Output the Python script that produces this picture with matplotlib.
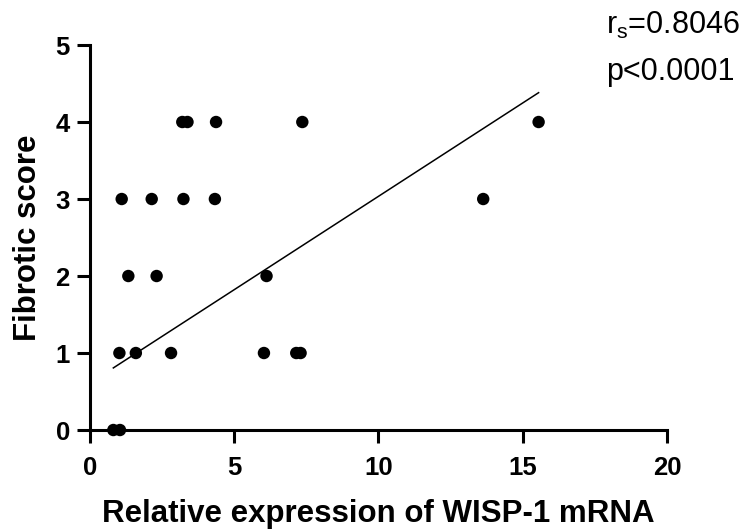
import numpy as np
import matplotlib
matplotlib.use('Agg')
import matplotlib.pyplot as plt

plt.rcParams['font.family'] = ['Liberation Sans', 'DejaVu Sans']
plt.rcParams['mathtext.fontset'] = 'custom'
plt.rcParams['mathtext.rm'] = 'Liberation Sans'

# values
wisp1 = np.array([0.81, 1.04,
                  1.02, 1.59, 2.81, 6.03, 7.15, 7.30,
                  1.33, 2.31, 6.12,
                  1.10, 2.14, 3.24, 4.33, 13.63,
                  3.20, 3.38, 4.37, 7.36, 15.55])
score = np.array([0, 0,
                  1, 1, 1, 1, 1, 1,
                  2, 2, 2,
                  3, 3, 3, 3, 3,
                  4, 4, 4, 4, 4])
fit_slope = 0.2425
fit_intercept = 0.61
x_ticks = [0, 5, 10, 15, 20]
y_ticks = [0, 1, 2, 3, 4, 5]

fig = plt.figure(figsize=(7.46, 5.32), dpi=100)
ax = fig.add_axes([0.1206, 0.1917, 0.7735, 0.7237])

ax.scatter(wisp1, score, s=80, color='black', edgecolors='none', zorder=3, clip_on=False)
xf = np.array([wisp1.min(), wisp1.max()])
ax.plot(xf, fit_slope * xf + fit_intercept, color='black', lw=1.1)

ax.set_xlim(0, 20)
ax.set_ylim(0, 5)
ax.set_xticks(x_ticks)
ax.set_yticks(y_ticks)
for s in ['top', 'right']:
    ax.spines[s].set_visible(False)
for s in ['left', 'bottom']:
    ax.spines[s].set_linewidth(2.2)
ax.tick_params(width=2.2, length=9.5, labelsize=18.5, pad=5)
ax.tick_params(axis='x', pad=9)
for lab in ax.get_xticklabels() + ax.get_yticklabels():
    lab.set_fontweight('bold')

ax.set_xlabel('Relative expression of WISP-1 mRNA', fontsize=22.5, fontweight='bold', labelpad=14)
ax.set_ylabel('Fibrotic score', fontsize=22.5, fontweight='bold', labelpad=9)

fig.text(0.813, 0.936, '$\\mathregular{r_s}$=0.8046', fontsize=22, ha='left', va='baseline')
fig.text(0.813, 0.850, 'p<0.0001', fontsize=22, ha='left', va='baseline')

fig.savefig('out.png', dpi=100)
